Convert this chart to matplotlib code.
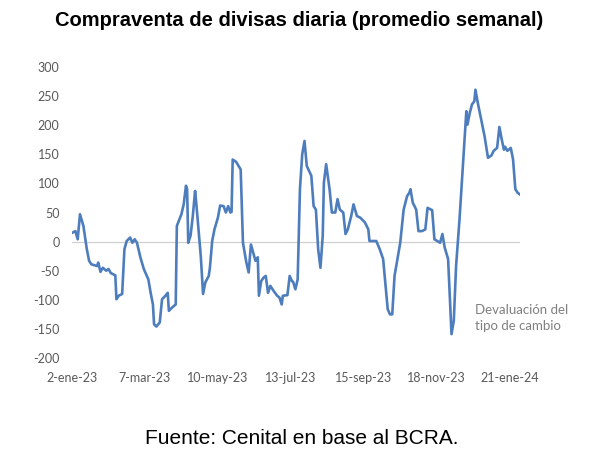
import numpy as np
import pandas as pd
import matplotlib
matplotlib.use('Agg')
import matplotlib.pyplot as plt
import matplotlib.dates as mdates

# compraventa diaria de divisas, promedio semanal (millones USD)
fechas = ['2023-01-02', '2023-01-05', '2023-01-07', '2023-01-09', '2023-01-12', '2023-01-15',
          '2023-01-17', '2023-01-19', '2023-01-24', '2023-01-25', '2023-01-27', '2023-01-29',
          '2023-02-01', '2023-02-03', '2023-02-05', '2023-02-09', '2023-02-10', '2023-02-12',
          '2023-02-15', '2023-02-17', '2023-02-19', '2023-02-22', '2023-02-24', '2023-02-26',
          '2023-02-28', '2023-03-03', '2023-03-06', '2023-03-10', '2023-03-12', '2023-03-14',
          '2023-03-15', '2023-03-17', '2023-03-20', '2023-03-22', '2023-03-25', '2023-03-27',
          '2023-03-28', '2023-03-31', '2023-04-03', '2023-04-04', '2023-04-08', '2023-04-10',
          '2023-04-12', '2023-04-13', '2023-04-14', '2023-04-16', '2023-04-18', '2023-04-20',
          '2023-04-21', '2023-04-23', '2023-04-25', '2023-04-27', '2023-04-29', '2023-05-02',
          '2023-05-03', '2023-05-05', '2023-05-07', '2023-05-10', '2023-05-12', '2023-05-15',
          '2023-05-17', '2023-05-19', '2023-05-21', '2023-05-22', '2023-05-23', '2023-05-26',
          '2023-05-30', '2023-06-01', '2023-06-04', '2023-06-06', '2023-06-08', '2023-06-10',
          '2023-06-12', '2023-06-14', '2023-06-15', '2023-06-17', '2023-06-19', '2023-06-21',
          '2023-06-23', '2023-06-25', '2023-06-28', '2023-07-01', '2023-07-03', '2023-07-05',
          '2023-07-06', '2023-07-10', '2023-07-12', '2023-07-14', '2023-07-15', '2023-07-17',
          '2023-07-19', '2023-07-21', '2023-07-23', '2023-07-25', '2023-07-27', '2023-07-31',
          '2023-08-02', '2023-08-04', '2023-08-06', '2023-08-08', '2023-08-10', '2023-08-11',
          '2023-08-13', '2023-08-16', '2023-08-18', '2023-08-21', '2023-08-23', '2023-08-25',
          '2023-08-28', '2023-08-30', '2023-09-01', '2023-09-04', '2023-09-06', '2023-09-09',
          '2023-09-12', '2023-09-16', '2023-09-19', '2023-09-20', '2023-09-26', '2023-09-29',
          '2023-10-02', '2023-10-06', '2023-10-08', '2023-10-10', '2023-10-12', '2023-10-17',
          '2023-10-20', '2023-10-23', '2023-10-25', '2023-10-26', '2023-10-28', '2023-10-31',
          '2023-11-02', '2023-11-05', '2023-11-08', '2023-11-10', '2023-11-14', '2023-11-16',
          '2023-11-21', '2023-11-23', '2023-11-25', '2023-11-28', '2023-12-01', '2023-12-03',
          '2023-12-05', '2023-12-08', '2023-12-11', '2023-12-14', '2023-12-15', '2023-12-17',
          '2023-12-19', '2023-12-21', '2023-12-22', '2023-12-24', '2023-12-27', '2023-12-30',
          '2024-01-02', '2024-01-05', '2024-01-07', '2024-01-10', '2024-01-12', '2024-01-14',
          '2024-01-16', '2024-01-17', '2024-01-19', '2024-01-22', '2024-01-24', '2024-01-26',
          '2024-01-28', '2024-01-30']
valores = [15, 18, 4, 47, 27, -13,
           -33, -39, -42, -36, -52, -45,
           -50, -47, -54, -58, -99, -93,
           -90, -13, 1, 7, -2, 4,
           -2, -27, -47, -65, -88, -108,
           -142, -146, -139, -99, -93, -88,
           -119, -113, -108, 27, 47, 64,
           96, 90, -2, 10, 44, 87,
           67, 21, -25, -90, -70, -59,
           -45, 1, 21, 41, 62, 61,
           50, 61, 50, 51, 141, 137,
           124, -2, -36, -53, -5, -19,
           -33, -27, -93, -68, -62, -59,
           -88, -76, -85, -93, -96, -108,
           -93, -92, -59, -68, -69, -82,
           -65, 90, 150, 173, 130, 113,
           61, 55, -13, -45, 10, 101,
           133, 90, 50, 50, 73, 55,
           50, 13, 21, 44, 64, 44,
           41, 33, 21, 1, 1, -13,
           -30, -116, -125, -125, -59, -2,
           55, 78, 84, 90, 67, 55,
           18, 18, 21, 58, 54, 4,
           -2, 13, -10, -30, -159, -136,
           -42, 38, 130, 224, 201, 221,
           236, 241, 261, 239, 210, 181,
           144, 148, 156, 161, 197, 176,
           158, 163, 156, 161, 141, 90,
           84, 81]

ticks_fechas = ['2023-01-02', '2023-03-07', '2023-05-10', '2023-07-13',
                '2023-09-15', '2023-11-18', '2024-01-21']
ticks_labels = ['2-ene-23', '7-mar-23', '10-may-23', '13-jul-23',
                '15-sep-23', '18-nov-23', '21-ene-24']
y_ticks = [-200, -150, -100, -50, 0, 50, 100, 150, 200, 250, 300]

x = pd.to_datetime(fechas)
xt = pd.to_datetime(ticks_fechas)

fig = plt.figure(figsize=(5.98, 4.55), dpi=100)
ax = fig.add_axes([0.1204, 0.2132, 0.749, 0.6395])

ax.axhline(0, color='#d0d0d0', lw=0.9, zorder=1)
ax.plot(x, valores, color='#4e7dbd', lw=1.9, solid_joinstyle='round', zorder=2)

ax.set_xlim(x[0], x[-1])
ax.set_ylim(-200, 300)
ax.set_yticks(y_ticks)
ax.set_yticklabels([str(v) for v in y_ticks], fontsize=9, color='#595959', family='Lato')
ax.set_xticks(xt)
ax.set_xticklabels(ticks_labels, fontsize=9, color='#595959', family='Lato')
ax.tick_params(axis='y', length=0, pad=9)
ax.tick_params(axis='x', length=0, pad=10)
for s in ax.spines.values():
    s.set_visible(False)

ax.text(0.8996, 0.137, 'Devaluación del\ntipo de cambio', transform=ax.transAxes,
        fontsize=9.5, color='#808080', family='Lato', ha='left', va='center',
        linespacing=1.35)

fig.text(0.5, 0.955, 'Compraventa de divisas diaria (promedio semanal)',
         ha='center', va='center', fontsize=14.5, fontweight='bold', family='Liberation Sans')
fig.text(0.505, 0.037, 'Fuente: Cenital en base al BCRA.',
         ha='center', va='center', fontsize=15, family='Liberation Sans')

fig.savefig('out.png', dpi=100)
